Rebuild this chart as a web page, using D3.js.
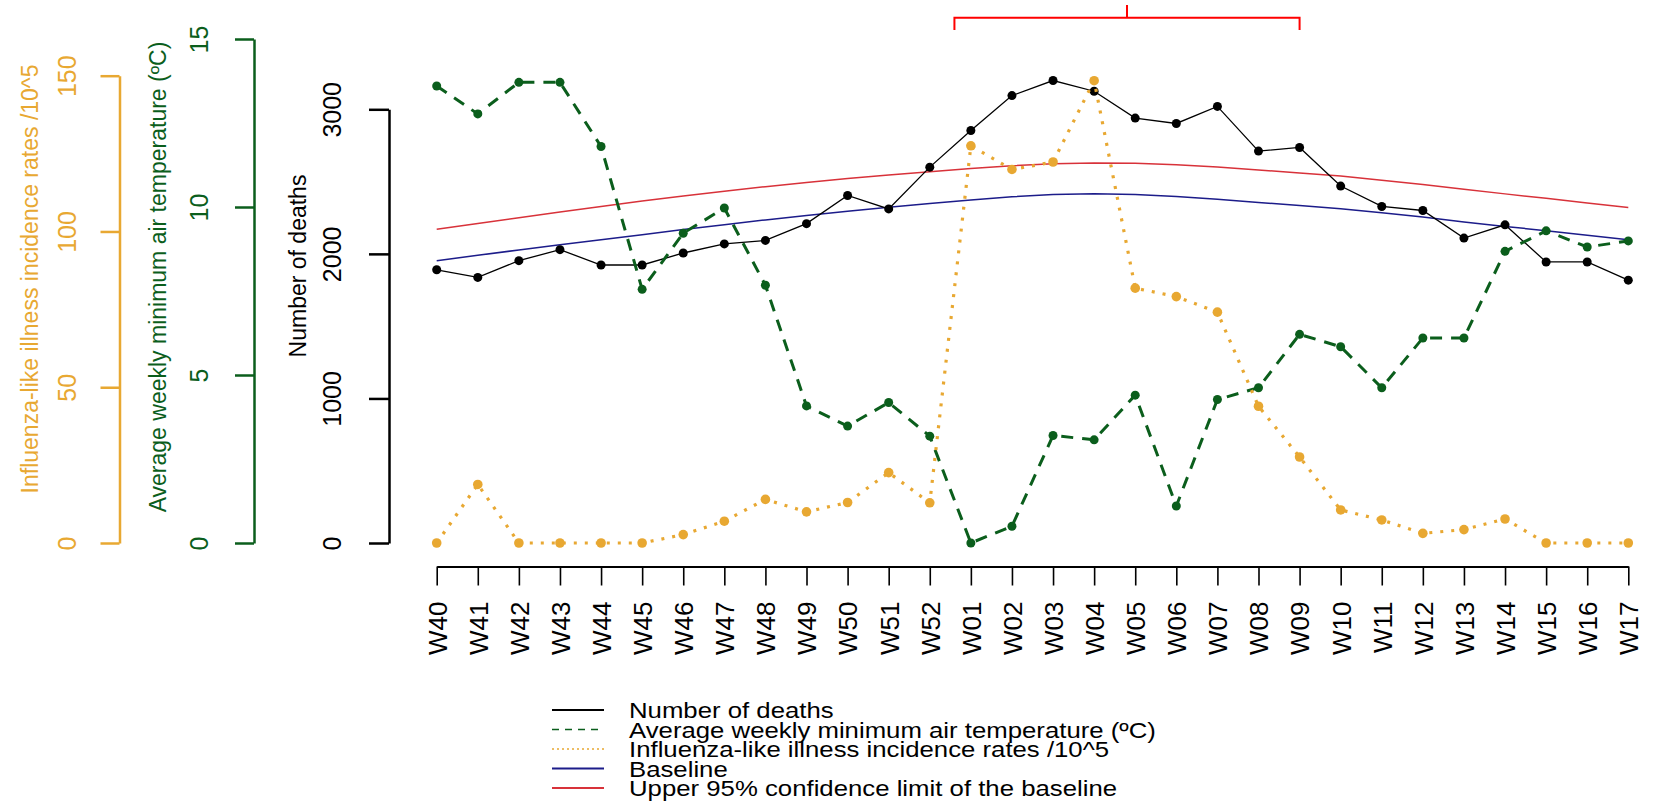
<!DOCTYPE html>
<html>
<head>
<meta charset="utf-8">
<script src="https://cdn.jsdelivr.net/npm/d3@7"></script>
<style>
  body { margin: 0; background: #fff; }
  svg { display: block; }
  text { font-family: "Liberation Sans", Arial, sans-serif; }
</style>
</head>
<body>
<div id="chart"></div>
<script>
// weekly series, W40 to W17
const weeks = ["W40","W41","W42","W43","W44","W45","W46","W47","W48","W49","W50","W51","W52",
  "W01","W02","W03","W04","W05","W06","W07","W08","W09","W10","W11","W12","W13","W14","W15","W16","W17"];

const deaths = [1890, 1837, 1953, 2029, 1923, 1923, 2006, 2069, 2093, 2209, 2404, 2311, 2600,
  2853, 3095, 3199, 3125, 2939, 2902, 3020, 2711, 2736, 2469, 2328, 2300, 2109, 2201, 1944, 1944, 1818];

const temperature = [13.6, 12.77, 13.71, 13.71, 11.8, 7.55, 9.22, 9.97, 7.67, 4.08, 3.48, 4.18, 3.18,
  0.0, 0.5, 3.2, 3.07, 4.4, 1.1, 4.27, 4.62, 6.21, 5.84, 4.62, 6.1, 6.1, 8.68, 9.29, 8.81, 8.99];

const ili = [0, 18.8, 0, 0, 0, 0, 2.7, 7.0, 14.0, 10.0, 13.0, 22.6, 12.9,
  127.5, 119.9, 122.3, 148.4, 81.8, 79.1, 74.1, 43.9, 27.6, 10.6, 7.4, 3.1, 4.3, 7.7, 0, 0, 0];

const baseline = [1953, 1990, 2027, 2063, 2098, 2133, 2168, 2202, 2235, 2266, 2295, 2322, 2348,
  2372, 2395, 2410, 2415, 2410, 2397, 2378, 2355, 2335, 2312, 2285, 2255, 2221, 2190, 2160, 2128, 2097];

const upperLimit = [2170, 2210, 2250, 2290, 2328, 2365, 2400, 2433, 2465, 2494, 2521, 2546, 2568,
  2590, 2610, 2624, 2629, 2627, 2617, 2601, 2580, 2560, 2538, 2510, 2480, 2447, 2415, 2384, 2352, 2320];

// epidemic period marked on top (week positions)
const epidemicPeriod = [12.6, 21];

const deathTicks = [0, 1000, 2000, 3000];
const tempTicks = [0, 5, 10, 15];
const iliTicks = [0, 50, 100, 150];

const legendLabels = [
  "Number of deaths",
  "Average weekly minimum air temperature (\u00baC)",
  "Influenza-like illness incidence rates /10^5",
  "Baseline",
  "Upper 95% confidence limit of the baseline"
];

const COL_ILI = "#e8a832";
const COL_TEMP = "#0b5e1c";
const COL_BASE = "#1c1c8a";
const COL_UPPER = "#d8323a";

const width = 1655, height = 806;
const svg = d3.select("#chart").append("svg")
  .attr("width", width).attr("height", height);

const x = d3.scaleLinear().domain([0, weeks.length - 1]).range([436.7, 1628.3]);
const yDeaths = d3.scaleLinear().domain([0, 3000]).range([543, 109.3]);
const yTemp = d3.scaleLinear().domain([0, 15]).range([543, 39]);
const yIli = d3.scaleLinear().domain([0, 150]).range([543, 75.7]);

// left axes: line, outward ticks, labels parallel to the axis
function leftAxis(scale, ticks, xPos, color, labelX, tickLen) {
  const g = svg.append("g").attr("transform", `translate(${xPos},0)`)
    .call(d3.axisLeft(scale).tickValues(ticks).tickFormat(d3.format("d"))
      .tickSize(tickLen).tickSizeOuter(0));
  g.attr("font-family", null);
  g.select(".domain").attr("stroke", color).attr("stroke-width", 2.5);
  g.selectAll(".tick line").attr("stroke", color).attr("stroke-width", 2.5);
  g.selectAll(".tick text")
    .attr("x", null).attr("dy", "0.36em")
    .attr("transform", `translate(${labelX - xPos},0) rotate(-90)`)
    .attr("text-anchor", "middle")
    .attr("fill", color)
    .attr("font-size", 25);
}

function axisTitle(text, tx, ty, color) {
  svg.append("text")
    .attr("transform", `translate(${tx},${ty}) rotate(-90)`)
    .attr("dy", "0.36em")
    .attr("text-anchor", "middle")
    .attr("fill", color)
    .attr("font-size", 23)
    .text(text);
}

leftAxis(yIli, iliTicks, 119.5, COL_ILI, 67, 19);
leftAxis(yTemp, tempTicks, 254, COL_TEMP, 199, 19);
leftAxis(yDeaths, deathTicks, 389, "#000", 332, 20);
axisTitle(legendLabels[2], 30, 279, COL_ILI);
axisTitle(legendLabels[1], 158, 277, COL_TEMP);
axisTitle(legendLabels[0], 298, 266, "#000");

// bottom axis
const xAxis = svg.append("g").attr("transform", "translate(0,566.5)")
  .call(d3.axisBottom(x).tickValues(d3.range(weeks.length)).tickFormat(i => weeks[i])
    .tickSize(19).tickSizeOuter(0));
xAxis.attr("font-family", null);
xAxis.select(".domain").attr("stroke", "#000").attr("stroke-width", 2);
xAxis.selectAll(".tick line").attr("stroke", "#000").attr("stroke-width", 1.6);
xAxis.selectAll(".tick text")
  .attr("y", null).attr("dy", "0.36em")
  .attr("transform", "translate(0,35) rotate(-90)")
  .attr("text-anchor", "end").attr("fill", "#000").attr("font-size", 26);

// baseline curves
const idx = d3.range(weeks.length);
const lineOf = (arr, scale) => d3.line().x(i => x(i)).y(i => scale(arr[i]))(idx);

svg.append("path").attr("d", lineOf(upperLimit, yDeaths))
  .attr("fill", "none").attr("stroke", COL_UPPER).attr("stroke-width", 1.5);
svg.append("path").attr("d", lineOf(baseline, yDeaths))
  .attr("fill", "none").attr("stroke", COL_BASE).attr("stroke-width", 1.5);

// deaths
svg.append("path").attr("d", lineOf(deaths, yDeaths))
  .attr("fill", "none").attr("stroke", "#000").attr("stroke-width", 1.3);
svg.append("g").selectAll("circle").data(idx).join("circle")
  .attr("cx", i => x(i)).attr("cy", i => yDeaths(deaths[i])).attr("r", 4.5).attr("fill", "#000");

// temperature
svg.append("path").attr("d", lineOf(temperature, yTemp))
  .attr("fill", "none").attr("stroke", COL_TEMP).attr("stroke-width", 3)
  .attr("stroke-dasharray", "12,9");
svg.append("g").selectAll("circle").data(idx).join("circle")
  .attr("cx", i => x(i)).attr("cy", i => yTemp(temperature[i])).attr("r", 4.5).attr("fill", COL_TEMP);

// influenza-like illness
svg.append("path").attr("d", lineOf(ili, yIli))
  .attr("fill", "none").attr("stroke", COL_ILI).attr("stroke-width", 3.2)
  .attr("stroke-dasharray", "3,8");
svg.append("g").selectAll("circle").data(idx).join("circle")
  .attr("cx", i => x(i)).attr("cy", i => yIli(ili[i])).attr("r", 4.8).attr("fill", COL_ILI);

// epidemic period bracket
const bx0 = x(epidemicPeriod[0]), bx1 = x(epidemicPeriod[1]);
svg.append("path")
  .attr("d", `M${bx0},30V17.7H${bx1}V30M${(bx0 + bx1) / 2},17.7V5`)
  .attr("fill", "none").attr("stroke", "#ff0000").attr("stroke-width", 2);

// legend
const legendStyles = [
  { color: "#000", dash: null, w: 1.8 },
  { color: COL_TEMP, dash: "7,6", w: 1.5 },
  { color: COL_ILI, dash: "2,3", w: 1.5 },
  { color: COL_BASE, dash: null, w: 2 },
  { color: COL_UPPER, dash: null, w: 2 }
];
const legend = svg.append("g");
legendLabels.forEach((lab, i) => {
  const y = 710 + i * 19.5;
  legend.append("line").attr("x1", 552).attr("x2", 604).attr("y1", y).attr("y2", y)
    .attr("stroke", legendStyles[i].color).attr("stroke-width", legendStyles[i].w)
    .attr("stroke-dasharray", legendStyles[i].dash);
  legend.append("text").attr("transform", `translate(629,${y}) scale(1.12,1)`)
    .attr("dy", "0.36em").attr("font-size", 23).attr("fill", "#000").text(lab);
});
</script>
</body>
</html>
